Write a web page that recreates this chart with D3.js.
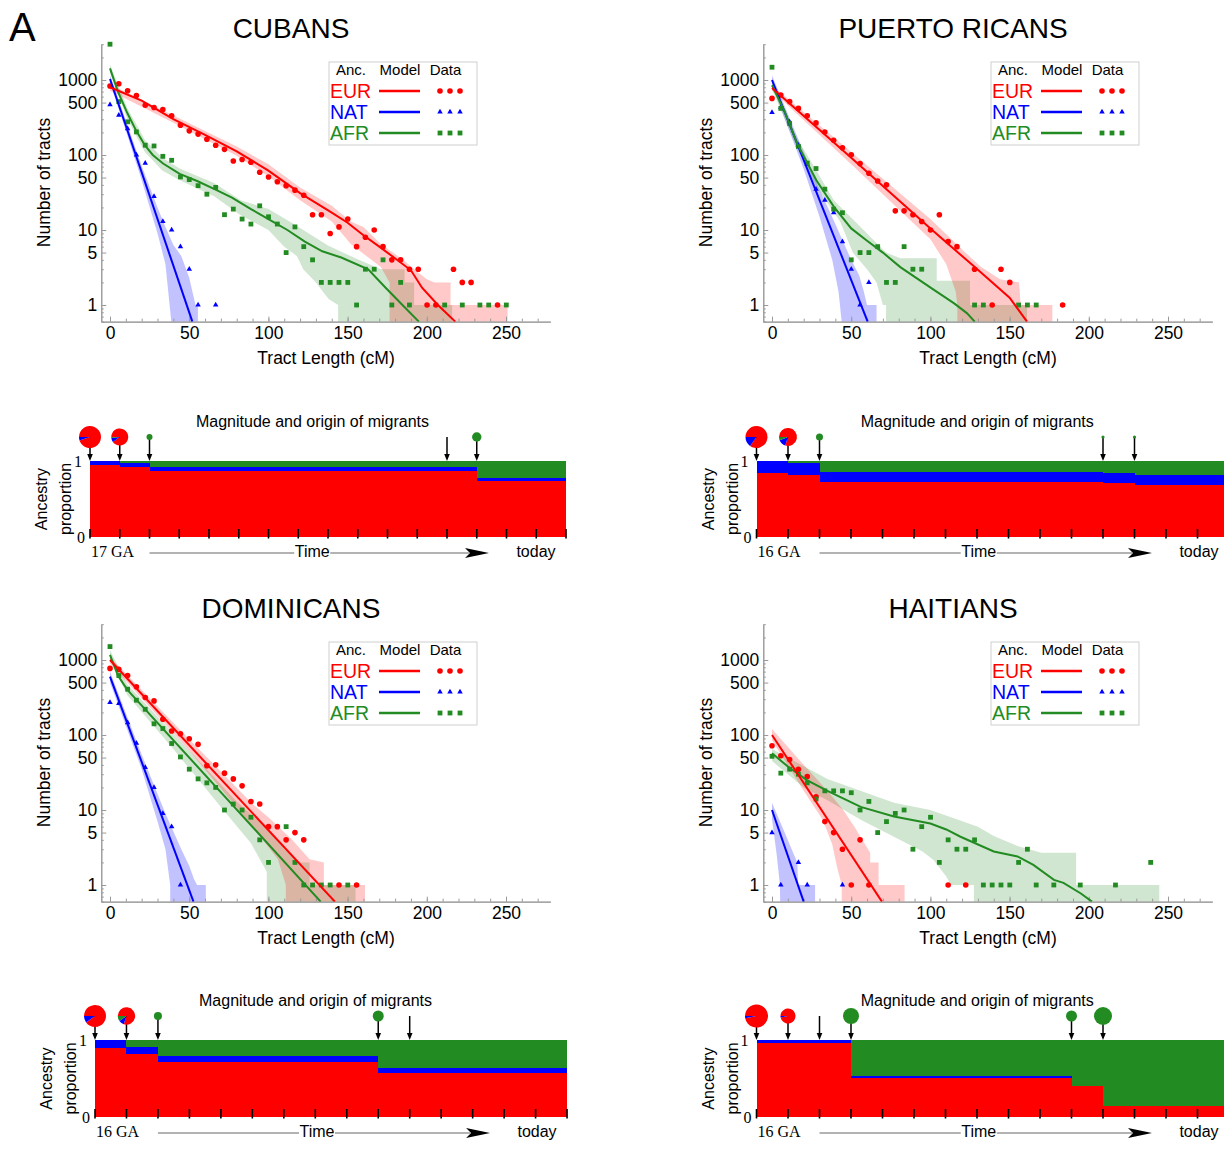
<!DOCTYPE html>
<html>
<head>
<meta charset="utf-8">
<script src="https://cdn.jsdelivr.net/npm/d3@7"></script>
<style>
  body { margin: 0; background: #fff; }
  svg { display: block; font-family: "Liberation Sans", Arial, sans-serif; }
</style>
</head>
<body>
<svg id="chart" width="1224" height="1159"></svg>
<script>
// tract length histograms, bins of ~5.56 cM starting at 0 (null = empty bin)
const binWidth = 5.56;
const ancestries = ['EUR', 'NAT', 'AFR'];
const ancColors = ['#ff0000', '#0000ff', '#228b22'];
const xTicks = [0, 50, 100, 150, 200, 250];
const yTickLabels = [1, 5, 10, 50, 100, 500, 1000];

// ---- CUBANS
const cubaEUR = [830, 890, 720, 620, 460, 430, 405, 333, 250, 210, 190, 162, 135, 119, 83, 87, 80, 59, 51, 44, 39, 34, 29, 16, 16, 9, 11, 14, 6, 8, 10, 6, 4, 4, 3, 3, 1, 1, null, 3, 2, 2, null, null, 1];
const cubaNAT = [470, 340, 225, 100, 78, 28, 13, 10, 6, 3, 1, null, 1];
const cubaAFR = [3000, 515, 277, 203, 135, 132, 96, 85, 51, 47, 39, 30, 37, 16, 19, 14, 12, 21, 15, 12, 5, 11, 6, 4, 2, 2, 2, 2, 1, 3, 3, 4, 1, 2, 1, null, null, null, 1, null, 1, null, 1, 1, null, 1];
const cubaModelEUR = [[0, 800], [20, 530], [40, 300], [60, 185], [80, 112], [100, 62], [120, 31], [130, 23], [140, 17], [150, 12.5], [160, 8.5], [170, 6], [178, 4.5], [190, 2.9], [197, 1.7], [207, 1], [218, 0.6]];
const cubaModelNAT = [[0, 1030], [52, 0.6]];
const cubaModelAFR = [[0, 1430], [5, 700], [11, 360], [16.6, 210], [22, 135], [27, 100], [33.5, 77], [44, 56], [55, 45], [66, 35], [77, 27], [89, 19], [100, 14], [112, 10], [123, 7], [134, 5.2], [146, 4.3], [163, 3], [174, 1.7], [184, 1.03], [195, 0.6]];
const cubaEURhi = [[0, 880], [40, 335], [80, 130], [100, 75], [120, 37], [140, 21], [152, 13], [160, 11], [171, 6.5], [185, 4], [192, 3], [200, 2.2], [205, 2], [215, 2], [215, 1], [251, 1], [251, 0]];
const cubaEURlo = [[0, 720], [40, 270], [80, 98], [100, 52], [120, 25], [140, 13], [152, 6.5], [165, 4], [171, 3.2], [176.5, 2], [176.5, 0]];
const cubaNAThi = [[0, 1150], [10, 290], [20, 72], [30, 20], [35, 11], [40, 6.3], [45, 4.5], [50, 2.3], [54, 1], [55.5, 1], [55.5, 0]];
const cubaNATlo = [[0, 920], [10, 210], [20, 46], [30, 9], [35, 3.5], [38.7, 0.6], [38.7, 0]];
const cubaAFRhi = [[0, 1600], [11, 420], [22, 160], [33, 92], [44, 66], [66, 42], [82.5, 25], [100, 19], [116, 12], [137.6, 6.2], [156, 4.1], [171, 3], [186, 3], [186, 2], [192, 2], [192, 1], [216, 1], [216, 0]];
const cubaAFRlo = [[0, 1250], [11, 300], [22, 110], [33, 62], [44, 46], [66, 28], [82, 16], [100, 10], [110, 6], [118, 4.5], [122, 3], [130, 2], [138, 1.2], [144, 1], [144, 0]];

// ---- PUERTO RICANS
const prEUR = [568, 630, 515, 418, 333, 268, 203, 157, 125, 101, 77, 57, 45, 40, 18, 18, 16, 13, 10, 16, 7, 6, null, 3, null, 1, 3, 2, null, null, null, null, null, 1];
const prNAT = [369, 430, 277, 135, 75, 35, 25, 17, 7, 3, 1, 2];
const prAFR = [1480, 418, 263, 130, 78, 66, 35, 19, 17, 4, 5, 5, 6, 2, 2, 6, 3, 3, null, null, null, null, null, 1, 1, null, null, null, 1, 1, 1];
const prModelEUR = [[0, 780], [50, 92], [100, 10.5], [128, 3.2], [150, 1.25], [161, 0.6]];
const prModelNAT = [[0, 1000], [60.4, 0.6]];
const prModelAFR = [[0, 850], [8, 380], [16, 140], [28, 46], [39, 20.5], [50, 10.5], [60, 7.2], [70, 5], [81, 3.2], [102, 1.6], [115, 1.05], [123, 0.78], [128, 0.6]];
const prEURhi = [[0, 850], [50, 110], [100, 14], [120, 5.5], [132, 3.2], [144, 2.2], [156, 2], [157, 1], [177, 1], [177, 0]];
const prEURlo = [[0, 720], [50, 75], [100, 7.5], [110, 3.5], [116, 1.5], [117, 1], [117, 0]];
const prNAThi = [[0, 1150], [20, 110], [30, 35], [40, 12], [50, 4], [55, 2.5], [58, 1.5], [60, 1], [66, 1], [66, 0]];
const prNATlo = [[0, 850], [20, 65], [30, 15], [38, 4], [42, 1.5], [44, 0.6], [44, 0]];
const prAFRhi = [[0, 950], [16, 165], [28, 62], [39, 25], [60, 9], [72, 5], [81, 4.2], [104, 4.2], [104, 2.1], [125, 2.1], [125, 1], [161, 1], [161, 0]];
const prAFRlo = [[0, 750], [16, 120], [28, 38], [43, 13], [51, 5], [60, 3], [66, 2], [70, 1], [72, 1], [72, 0]];

// ---- DOMINICANS
const domEUR = [773, 750, 620, 440, 316, 285, 162, 113, 104, 89, 75, 39, 40, 31, 26, 21, 13, 12, 6, 6, 4, 5, 4, null, null, null, 1, null, 1];
const domNAT = [271, 263, 146, 78, 37, 20, 9, 6, 1];
const domAFR = [1510, 620, 408, 291, 220, 141, 122, 77, 51, 35, 26, 23, 20, 10, 12, 10, 8, 4, 2, null, 6, 2, 1, 1, 1, 1, null, 1];
const domModelEUR = [[0, 1000], [142, 0.6]];
const domModelNAT = [[0, 600], [52.7, 0.6]];
const domModelAFR = [[0, 1170], [5, 620], [11, 400], [133, 0.6]];
const domEURhi = [[0, 1100], [50, 88], [90, 12], [100, 8], [115, 4], [126, 2.2], [135, 2], [135, 1], [161, 1], [161, 0]];
const domEURlo = [[0, 900], [50, 62], [90, 6], [100, 3.2], [106, 2.2], [111, 1], [111, 0]];
const domNAThi = [[0, 700], [20, 55], [35, 9], [45, 3], [50, 1.8], [53, 1.2], [55, 1], [60.5, 1], [60.5, 0]];
const domNATlo = [[0, 500], [20, 35], [30, 7], [35, 3], [38, 1], [38, 0]];
const domAFRhi = [[0, 1350], [11, 470], [50, 62], [80, 13], [100, 5.5], [110, 3], [120, 2], [126, 2], [126, 1], [155, 1], [155, 0]];
const domAFRlo = [[0, 1000], [11, 340], [40, 65], [70, 11], [89, 3.6], [99, 1.5], [99, 0]];

// ---- HAITIANS
const haiEUR = [72, 53, 47, 35, 28, 15, 7, 5, 3, 1, 4, 1, null, null, null, null, null, null, null, null, 1, null, 1];
const haiNAT = [5, 1, null, 2, 1, null, null, null, 1];
const haiAFR = [52, 31, 35, 30, 23, 14, 18, 18, 18, 17, 10, 13, 5, 7, 9, 10, 3, 6, 8, 2, 4, 3, 3, 4, 1, 1, 1, 1, 2, 3, 1, null, 1, null, null, 1, null, null, null, 1, null, null, null, 2];
const haiModelEUR = [[0, 100], [69.4, 0.6]];
const haiModelNAT = [[0, 10], [20, 0.6]];
const haiModelAFR = [[0, 57], [10, 38], [22, 25], [35, 18], [56, 11], [77, 8.2], [100, 6.6], [110, 5.5], [119, 4.4], [140, 2.8], [155, 2.4], [165, 1.85], [178, 1.17], [184, 1.07], [195, 0.77], [202, 0.6]];
const haiEURhi = [[0, 120], [20, 40], [35, 18], [45, 10], [52, 6], [62, 2.7], [62, 2], [67.3, 2], [67.3, 1], [83.7, 1], [83.7, 0]];
const haiEURlo = [[0, 85], [20, 18], [32, 7.4], [38, 3.5], [41, 1.75], [44, 1], [44, 0]];
const haiNAThi = [[0, 12.5], [8, 5], [14, 2.5], [16, 2], [16.5, 1], [27.2, 1], [27.2, 0]];
const haiNATlo = [[0, 7.5], [3, 2.5], [5, 1], [5.3, 0]];
const haiAFRhi = [[0, 65], [35, 26], [77, 12.5], [100, 10], [130, 6], [140, 4.5], [155, 3.3], [170, 2.7], [192, 2.7], [192, 1], [244.5, 1], [244.5, 0]];
const haiAFRlo = [[0, 45], [20, 20], [35, 13.5], [56, 7.4], [77, 4.4], [95, 2.8], [102, 2.15], [110, 1.3], [113, 1], [127.5, 1], [127.5, 0]];

// ---- migration histories (ancestry proportions after each pulse, generations from first pulse)
const cubaStepAt = [0, 1, 2, 13];
const cubaStepEUR = [0.943, 0.92, 0.864, 0.737];
const cubaStepNAT = [0.057, 0.06, 0.057, 0.04];
const cubaPulseAt = [0, 1, 2, 12, 13];
const cubaPulseSize = [11, 8.5, 3, 0, 4.7];
const cubaPulseMix = [[0.95, 0.05, 0], [0.9, 0.08, 0.02], [0, 0, 1], [0, 0, 1], [0, 0, 1]];

const prStepAt = [0, 1, 2, 11, 12];
const prStepEUR = [0.848, 0.817, 0.726, 0.709, 0.687];
const prStepNAT = [0.152, 0.152, 0.13, 0.134, 0.13];
const prPulseAt = [0, 1, 2, 11, 12];
const prPulseSize = [11, 9, 3.5, 1.6, 1.6];
const prPulseMix = [[0.85, 0.15, 0], [0.8, 0.14, 0.06], [0, 0, 1], [0, 0, 1], [0, 0, 1]];

const domStepAt = [0, 1, 2, 9];
const domStepEUR = [0.897, 0.812, 0.714, 0.573];
const domStepNAT = [0.103, 0.094, 0.077, 0.064];
const domPulseAt = [0, 1, 2, 9, 10];
const domPulseSize = [11, 8.7, 4, 5.5, 0];
const domPulseMix = [[0.9, 0.1, 0], [0.8, 0.1, 0.1], [0, 0, 1], [0, 0, 1], [0, 0, 1]];

const haiStepAt = [0, 3, 10, 11];
const haiStepEUR = [0.96, 0.509, 0.397, 0.145];
const haiStepNAT = [0.04, 0.017, 0.009, 0.004];
const haiPulseAt = [0, 1, 2, 3, 10, 11];
const haiPulseSize = [11.5, 7.5, 0, 8, 5.5, 9];
const haiPulseMix = [[0.97, 0.03, 0], [0.97, 0.03, 0], [0, 0, 1], [0, 0, 1], [0, 0, 1], [0, 0, 1]];

const svg = d3.select('#chart');

svg.append('text').attr('x', 9).attr('y', 41).attr('font-size', 40).text('A');

//#region tract length panels
const tractPanels = [
  { title: 'CUBANS', dx: 0, dy: 0, points: [cubaEUR, cubaNAT, cubaAFR], model: [cubaModelEUR, cubaModelNAT, cubaModelAFR], hi: [cubaEURhi, cubaNAThi, cubaAFRhi], lo: [cubaEURlo, cubaNATlo, cubaAFRlo] },
  { title: 'PUERTO RICANS', dx: 662, dy: 0, points: [prEUR, prNAT, prAFR], model: [prModelEUR, prModelNAT, prModelAFR], hi: [prEURhi, prNAThi, prAFRhi], lo: [prEURlo, prNATlo, prAFRlo] },
  { title: 'DOMINICANS', dx: 0, dy: 580, points: [domEUR, domNAT, domAFR], model: [domModelEUR, domModelNAT, domModelAFR], hi: [domEURhi, domNAThi, domAFRhi], lo: [domEURlo, domNATlo, domAFRlo] },
  { title: 'HAITIANS', dx: 662, dy: 580, points: [haiEUR, haiNAT, haiAFR], model: [haiModelEUR, haiModelNAT, haiModelAFR], hi: [haiEURhi, haiNAThi, haiAFRhi], lo: [haiEURlo, haiNATlo, haiAFRlo] }
];

function addMarkers(sel, i, pts) {
  if (i === 0) {
    sel.selectAll('circle').data(pts).join('circle')
      .attr('cx', d => d[0]).attr('cy', d => d[1]).attr('r', 2.8).attr('fill', ancColors[0]);
  } else if (i === 1) {
    sel.selectAll('path').data(pts).join('path')
      .attr('d', d3.symbol(d3.symbolTriangle, 13)())
      .attr('transform', d => `translate(${d[0]},${d[1]})`).attr('fill', ancColors[1]);
  } else {
    sel.selectAll('rect').data(pts).join('rect')
      .attr('x', d => d[0] - 2.4).attr('y', d => d[1] - 2.4)
      .attr('width', 4.8).attr('height', 4.8).attr('fill', ancColors[2]);
  }
}

tractPanels.forEach((p, pi) => {
  const x = d3.scaleLinear().domain([0, 250]).range([p.dx + 110, p.dx + 506]);
  const y = d3.scaleLog().domain([1, 1000]).range([p.dy + 305, p.dy + 80]);
  const xAx = d3.scaleLinear().domain([-5.5, 278]).range([x(-5.5), x(278)]);
  const yAx = d3.scaleLog().domain([0.6, 3000]).range([y(0.6), y(3000)]);
  const yv = v => y(Math.max(v, 0.3));

  const clipId = 'clip' + pi;
  svg.append('clipPath').attr('id', clipId).append('rect')
    .attr('x', xAx.range()[0]).attr('y', yAx.range()[1])
    .attr('width', xAx.range()[1] - xAx.range()[0])
    .attr('height', yAx.range()[0] - yAx.range()[1]);

  // title
  svg.append('text').attr('x', p.dx + 291).attr('y', p.dy + 38)
    .attr('text-anchor', 'middle').attr('font-size', 28).text(p.title);

  // confidence bands
  const bands = svg.append('g').attr('clip-path', `url(#${clipId})`);
  const bandLine = d3.line().x(d => x(d[0])).y(d => yv(d[1]));
  [1, 2, 0].forEach(i => {
    const poly = p.hi[i].concat(p.lo[i].slice().reverse());
    bands.append('path').attr('d', bandLine(poly) + 'Z')
      .attr('fill', ancColors[i]).attr('fill-opacity', i === 1 ? 0.24 : 0.21);
  });

  // axes
  const xMinor = d3.axisBottom(xAx).tickValues(d3.range(0, 280, 10)).tickSize(-3).tickSizeOuter(0).tickFormat('');
  const xMajor = d3.axisBottom(xAx).tickValues(xTicks).tickSize(-5).tickSizeOuter(0).tickPadding(5);
  const yMinorVals = [];
  [0.1, 1, 10, 100, 1000].forEach(dec => d3.range(1, 10).forEach(m => {
    const v = m * dec;
    if (v >= 0.6 && v <= 3000 && !yTickLabels.includes(v)) yMinorVals.push(v);
  }));
  const yMinor = d3.axisLeft(yAx).tickValues(yMinorVals).tickSize(-2.5).tickSizeOuter(0).tickFormat('');
  const yMajor = d3.axisLeft(yAx).tickValues(yTickLabels).tickSize(-5).tickSizeOuter(0).tickPadding(4).tickFormat(d3.format('d'));

  [xMinor, xMajor].forEach(ax => svg.append('g')
    .attr('transform', `translate(0,${yAx(0.6)})`).call(ax)
    .attr('color', '#9a9a9a').attr('font-size', 17.5).attr('font-family', null));
  [yMinor, yMajor].forEach(ax => svg.append('g')
    .attr('transform', `translate(${xAx(-5.5)},0)`).call(ax)
    .attr('color', '#9a9a9a').attr('font-size', 17.5).attr('font-family', null));
  svg.selectAll('.tick text').attr('fill', '#000');

  svg.append('text').attr('x', p.dx + 326).attr('y', p.dy + 364)
    .attr('text-anchor', 'middle').attr('font-size', 17.5).text('Tract Length (cM)');
  svg.append('text').attr('transform', `translate(${p.dx + 50},${p.dy + 182.5}) rotate(-90)`)
    .attr('text-anchor', 'middle').attr('font-size', 17.5).text('Number of tracts');

  // data points
  p.points.forEach((series, i) => {
    const pts = series.map((v, k) => [k * binWidth, v]).filter(d => d[1] != null)
      .map(d => [x(d[0]), y(d[1])]);
    addMarkers(svg.append('g'), i, pts);
  });

  // model lines
  const lines = svg.append('g').attr('clip-path', `url(#${clipId})`);
  [1, 2, 0].forEach(i => {
    lines.append('path').attr('d', bandLine(p.model[i]))
      .attr('fill', 'none').attr('stroke', ancColors[i]).attr('stroke-width', 2);
  });

  // legend
  const lg = svg.append('g').attr('transform', `translate(${p.dx + 329},${p.dy + 62})`);
  lg.append('rect').attr('width', 148).attr('height', 83)
    .attr('fill', '#fff').attr('stroke', '#cfcfcf');
  [['Anc.', 22], ['Model', 71], ['Data', 116.5]].forEach(h => lg.append('text')
    .attr('x', h[1]).attr('y', 13).attr('text-anchor', 'middle').attr('font-size', 15).text(h[0]));
  ancestries.forEach((a, i) => {
    const ry = 29 + i * 21;
    lg.append('text').attr('x', 1).attr('y', ry + 6.5).attr('font-size', 19.5)
      .attr('fill', ancColors[i]).text(a);
    lg.append('line').attr('x1', 50).attr('x2', 91).attr('y1', ry).attr('y2', ry)
      .attr('stroke', ancColors[i]).attr('stroke-width', 2.4);
    addMarkers(lg.append('g'), i, [[111, ry], [121, ry], [131, ry]]);
  });
});
//#endregion

//#region migration panels
const migPanels = [
  { ga: '17 GA', x0: 90, step: 29.75, nInt: 16, top: 461, bottom: 537, stepAt: cubaStepAt, eur: cubaStepEUR, nat: cubaStepNAT, pulseAt: cubaPulseAt, size: cubaPulseSize, mix: cubaPulseMix },
  { ga: '16 GA', x0: 756.5, step: 31.5, nInt: 15, top: 461, bottom: 537, stepAt: prStepAt, eur: prStepEUR, nat: prStepNAT, pulseAt: prPulseAt, size: prPulseSize, mix: prPulseMix },
  { ga: '16 GA', x0: 95, step: 31.47, nInt: 15, top: 1040, bottom: 1117, stepAt: domStepAt, eur: domStepEUR, nat: domStepNAT, pulseAt: domPulseAt, size: domPulseSize, mix: domPulseMix },
  { ga: '16 GA', x0: 756.5, step: 31.5, nInt: 15, top: 1040, bottom: 1117, stepAt: haiStepAt, eur: haiStepEUR, nat: haiStepNAT, pulseAt: haiPulseAt, size: haiPulseSize, mix: haiPulseMix }
];

const fillColors = ['#ff0000', '#0000ff', '#228b22'];
const serif = '"Liberation Serif", "Times New Roman", serif';

migPanels.forEach(m => {
  const g = d3.scaleLinear().domain([0, m.nInt]).range([m.x0, m.x0 + m.nInt * m.step]);
  const p = d3.scaleLinear().domain([0, 1]).range([m.bottom, m.top]);
  const right = g(m.nInt);

  const rows = m.stepAt.map((s, i) => ({
    g0: s,
    g1: i + 1 < m.stepAt.length ? m.stepAt[i + 1] : m.nInt,
    EUR: m.eur[i], NAT: m.nat[i], AFR: 1 - m.eur[i] - m.nat[i]
  }));
  const layers = d3.stack().keys(ancestries)(rows);
  layers.forEach((layer, li) => {
    svg.append('g').selectAll('rect').data(layer).join('rect')
      .attr('x', d => g(d.data.g0)).attr('width', d => g(d.data.g1) - g(d.data.g0))
      .attr('y', d => p(d[1])).attr('height', d => p(d[0]) - p(d[1]))
      .attr('fill', fillColors[li]).attr('shape-rendering', 'crispEdges');
  });

  // generation ticks
  svg.append('g').selectAll('line').data(d3.range(0, m.nInt + 1)).join('line')
    .attr('x1', d => g(d)).attr('x2', d => g(d))
    .attr('y1', m.bottom - 8).attr('y2', m.bottom + 1.5)
    .attr('stroke', '#000').attr('stroke-width', 1.6);

  // pulses: arrow + pie of migrant origin
  const cy = m.top - 24;
  const pie = d3.pie().sort(null).startAngle(-Math.PI / 2).endAngle(3 * Math.PI / 2);
  m.pulseAt.forEach((at, i) => {
    const px = g(at);
    svg.append('line').attr('x1', px).attr('x2', px).attr('y1', cy).attr('y2', m.top - 6)
      .attr('stroke', '#000').attr('stroke-width', 1.5);
    svg.append('path').attr('d', `M${px - 2.8},${m.top - 7}L${px + 2.8},${m.top - 7}L${px},${m.top}Z`)
      .attr('fill', '#000');
    if (m.size[i] > 0) {
      const arc = d3.arc().innerRadius(0).outerRadius(m.size[i]);
      svg.append('g').attr('transform', `translate(${px},${cy})`)
        .selectAll('path').data(pie(m.mix[i])).join('path')
        .attr('d', arc).attr('fill', (d, j) => fillColors[j]);
    }
  });

  // labels
  svg.append('text').attr('x', (m.x0 + right) / 2 - 15.5).attr('y', m.top - 34)
    .attr('text-anchor', 'middle').attr('font-size', 16).text('Magnitude and origin of migrants');
  svg.append('text').attr('x', m.x0 - 8).attr('y', m.top + 5.5).attr('text-anchor', 'end')
    .attr('font-family', serif).attr('font-size', 16).text('1');
  svg.append('text').attr('x', m.x0 - 5).attr('y', m.bottom + 5.5).attr('text-anchor', 'end')
    .attr('font-family', serif).attr('font-size', 16).text('0');
  const midY = (m.top + m.bottom) / 2;
  svg.append('text').attr('transform', `translate(${m.x0 - 43},${midY}) rotate(-90)`)
    .attr('text-anchor', 'middle').attr('font-size', 16).text('Ancestry');
  svg.append('text').attr('transform', `translate(${m.x0 - 19},${midY}) rotate(-90)`)
    .attr('text-anchor', 'middle').attr('font-size', 16).text('proportion');

  const ty = m.bottom + 20;
  const lineY = m.bottom + 16;
  const start = g(2), tip = right - 77;
  svg.append('text').attr('x', m.x0 + 1).attr('y', ty)
    .attr('font-family', serif).attr('font-size', 16).text(m.ga);
  svg.append('line').attr('x1', start).attr('x2', tip - 20).attr('y1', lineY).attr('y2', lineY)
    .attr('stroke', '#9a9a9a').attr('stroke-width', 1.4);
  svg.append('path')
    .attr('d', `M${tip - 24},${lineY - 5}L${tip},${lineY}L${tip - 24},${lineY + 5}L${tip - 19},${lineY}Z`)
    .attr('fill', '#000');
  const timeX = (start + tip) / 2 - 7;
  svg.append('rect').attr('x', timeX - 18).attr('y', lineY - 3).attr('width', 36).attr('height', 6).attr('fill', '#fff');
  svg.append('text').attr('x', timeX).attr('y', ty).attr('text-anchor', 'middle')
    .attr('font-size', 16).text('Time');
  svg.append('text').attr('x', right - 30).attr('y', ty).attr('text-anchor', 'middle')
    .attr('font-size', 16).text('today');
});
//#endregion
</script>
</body>
</html>
